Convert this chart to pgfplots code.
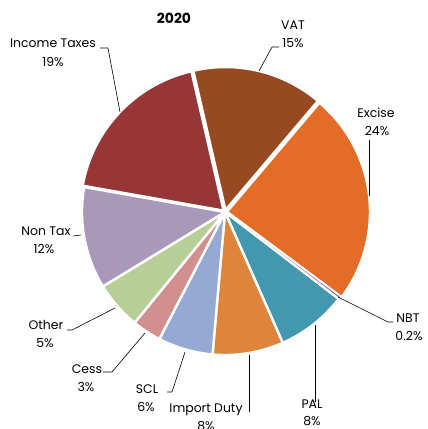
\documentclass[border=0pt]{standalone}
\usepackage{pgfplots}
\usepackage{pgfplotstable}
\pgfplotsset{compat=1.18}
\usepackage{fontspec}
\setmainfont{Poppins}

\definecolor{cInc}{HTML}{963637}
\definecolor{cVAT}{HTML}{974A22}
\definecolor{cExc}{HTML}{E36C26}
\definecolor{cNBT}{HTML}{7D5AA0}
\definecolor{cPAL}{HTML}{4198AF}
\definecolor{cImp}{HTML}{DE843B}
\definecolor{cSCL}{HTML}{94AAD2}
\definecolor{cCes}{HTML}{D18F8E}
\definecolor{cOth}{HTML}{B8CE97}
\definecolor{cNon}{HTML}{A898BA}

% share of revenue (%), clockwise from the top
\pgfplotstableread[col sep=comma]{
name,value,color,border,lw,explode
VAT,14.8,cVAT,white,2.4,2
Excise,24.0,cExc,white,2.4,2
NBT,0.2,cNBT,cNBT,0.9,0
PAL,8.0,cPAL,white,2.4,0
Import Duty,8.0,cImp,white,2.4,0
SCL,6.2,cSCL,white,2.4,0
Cess,3.3,cCes,white,2.4,0
Other,5.4,cOth,white,2.4,0
Non Tax,11.5,cNon,white,2.4,0
Income Taxes,18.6,cInc,white,2.4,2
}\piedata

\newcommand\lbl[3]{\node[anchor=base,inner sep=0pt] at (axis cs:#1,{429-#2-4.5}) {#3};}

\begin{document}
\begin{tikzpicture}
\begin{axis}[
  hide axis, scale only axis,
  width=428bp, height=429bp,
  xmin=0, xmax=428, ymin=0, ymax=429,
  clip=false,
]
\def\cx{225}\def\cy{217}\def\R{143}
\gdef\startA{103}
\pgfplotsforeachungrouped \i in {0,...,9} {
  \pgfplotstablegetelem{\i}{value}\of\piedata \let\v\pgfplotsretval
  \pgfplotstablegetelem{\i}{color}\of\piedata \let\c\pgfplotsretval
  \pgfplotstablegetelem{\i}{border}\of\piedata \let\b\pgfplotsretval
  \pgfplotstablegetelem{\i}{lw}\of\piedata \let\w\pgfplotsretval
  \pgfplotstablegetelem{\i}{explode}\of\piedata \let\e\pgfplotsretval
  \pgfmathsetmacro\endA{\startA - 3.6*\v}
  \pgfmathsetmacro\midA{(\startA+\endA)/2}
  \pgfmathsetmacro\ox{\cx + \e*cos(\midA)}
  \pgfmathsetmacro\oy{\cy + \e*sin(\midA)}
  \edef\temp{\noexpand\addplot[fill=\c, draw=\b, line width=\w bp, line join=round,
    domain=\endA:\startA, samples=80, variable=\noexpand\t]
    ({\ox + \R*cos(\noexpand\t)}, {\oy + \R*sin(\noexpand\t)}) -- (axis cs:\ox,\oy) -- cycle;}
  \temp
  \global\let\startA\endA
}

% leader lines
\addplot[black, line width=0.6bp] coordinates {(120,317) (108,381) (100,381)};
\addplot[black, line width=0.6bp] coordinates {(259,358) (272,382) (279,382)};
\addplot[black, line width=0.6bp] coordinates {(369,233) (369,289)};
\addplot[black, line width=0.6bp] coordinates {(338,132) (388,107) (393,107)};
\addplot[black, line width=0.6bp] coordinates {(315,104) (315,27)};
\addplot[black, line width=0.6bp] coordinates {(249,74) (249,17)};
\addplot[black, line width=0.6bp] coordinates {(185,77) (172,37) (167,37)};
\addplot[black, line width=0.6bp] coordinates {(145,96) (112,57) (103,57)};
\addplot[black, line width=0.6bp] coordinates {(115,121) (72,99) (67,99)};
\addplot[black, line width=0.6bp] coordinates {(73,193) (81,194)};

% labels
\fontsize{12.5}{15}\selectfont
\lbl{53}{43}{Income Taxes}\lbl{53}{62}{19\%}
\lbl{293}{25}{VAT}\lbl{293}{43}{15\%}
\lbl{376}{113}{Excise}\lbl{377}{131}{24\%}
\lbl{408}{318}{NBT}\lbl{409}{336}{0.2\%}
\lbl{312}{404}{PAL}\lbl{312}{421}{8\%}
\lbl{206}{408}{Import Duty}\lbl{206}{426}{8\%}
\lbl{147}{389}{SCL}\lbl{146}{407}{6\%}
\lbl{87}{369}{Cess}\lbl{86}{387}{3\%}
\lbl{46}{325}{Other}\lbl{45}{343}{5\%}
\lbl{46}{231}{Non Tax}\lbl{44}{249}{12\%}
\node[anchor=base,inner sep=0pt,font=\fontsize{14}{16}\selectfont\bfseries] at (axis cs:174,{429-19-5}) {2020};
\end{axis}
\pgfresetboundingbox
\path[use as bounding box] (current axis.south west) rectangle (current axis.north east);
\end{tikzpicture}
\end{document}
